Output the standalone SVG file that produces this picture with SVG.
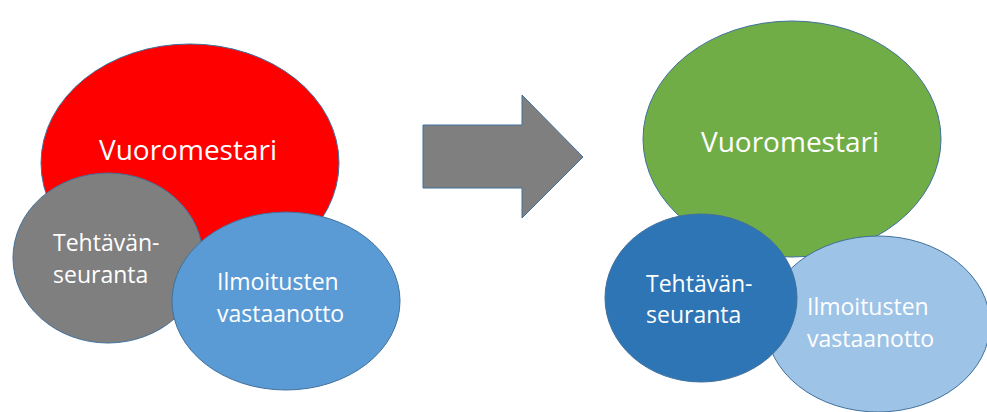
<svg xmlns="http://www.w3.org/2000/svg" width="987" height="412" viewBox="0 0 987 412">
<style>
.sh{stroke:#41719C;stroke-width:1}
.t{font-family:"Open Sans","Noto Sans",sans-serif;fill:#ffffff}
.big{font-size:28px}
.sm{font-size:23px}
</style>
<rect width="987" height="412" fill="#ffffff"/>
<g id="left-vuoromestari">
<ellipse class="sh" cx="190" cy="163" rx="149" ry="119" fill="#FF0000"/>
<text class="t big" x="188" y="160" text-anchor="middle">Vuoromestari</text>
</g>
<g id="left-tehtavanseuranta">
<ellipse class="sh" cx="108" cy="258" rx="95" ry="85" fill="#7F7F7F"/>
<text class="t sm" x="53" y="251">Tehtävän-</text>
<text class="t sm" x="53" y="283">seuranta</text>
</g>
<g id="left-ilmoitusten">
<ellipse class="sh" cx="286" cy="301" rx="114" ry="89" fill="#5B9BD5"/>
<text class="t sm" x="217" y="290">Ilmoitusten</text>
<text class="t sm" x="217" y="322">vastaanotto</text>
</g>
<g id="connectors">
<polygon id="arrow" class="sh" points="423,125 522,125 522,95 583,157 522,218 522,188 423,188" fill="#7F7F7F"/>
</g>
<g id="right-vuoromestari">
<ellipse class="sh" cx="792" cy="139" rx="149" ry="118" fill="#70AD47"/>
<text class="t big" x="790" y="152" text-anchor="middle">Vuoromestari</text>
</g>
<g id="right-ilmoitusten">
<ellipse class="sh" cx="878" cy="324" rx="112" ry="88" fill="#9DC3E6"/>
<text class="t sm" x="807" y="315">Ilmoitusten</text>
<text class="t sm" x="807" y="347">vastaanotto</text>
</g>
<g id="right-tehtavanseuranta">
<ellipse class="sh" cx="701" cy="298" rx="96" ry="84" fill="#2E75B6"/>
<text class="t sm" x="646" y="292">Tehtävän-</text>
<text class="t sm" x="646" y="323">seuranta</text>
</g>
</svg>
